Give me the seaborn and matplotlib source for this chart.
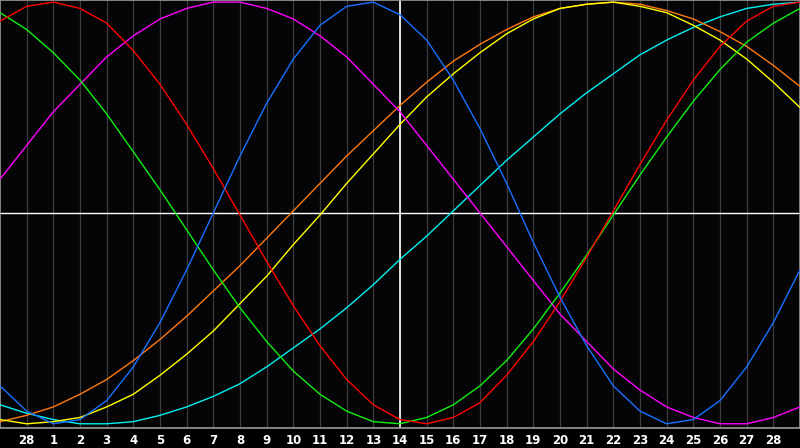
import matplotlib
matplotlib.use("Agg")
import matplotlib.pyplot as plt
import seaborn as sns
import pandas as pd

# day index 0..30 across the chart; tick labels at gridlines 1..29
days = list(range(31))
tick_pos = list(range(1, 30))
tick_labels = ["28"] + [str(d) for d in range(1, 29)]
today_pos = 15

blue = [-82, -94, -100, -98, -89, -73, -52, -27, 0, 27, 52, 73, 89, 98, 100, 94,
        82, 63, 40, 14, -14, -40, -63, -82, -94, -100, -98, -89, -73, -52, -27]
red = [91, 98, 100, 97, 90, 77, 61, 42, 21, -1, -23, -44, -63, -79, -91, -98,
       -100, -97, -90, -77, -61, -42, -21, 1, 23, 44, 63, 79, 91, 98, 100]
green = [95, 87, 76, 63, 47, 29, 11, -8, -27, -45, -61, -75, -86, -94, -99, -100,
         -97, -91, -82, -70, -55, -38, -20, -1, 18, 36, 53, 68, 81, 90, 97]
magenta = [16, 32, 48, 61, 74, 84, 92, 97, 100, 100, 97, 92, 84, 74, 61, 48,
           32, 16, 0, -16, -32, -48, -61, -74, -84, -92, -97, -100, -100, -97, -92]
yellow = [-98, -100, -99, -97, -92, -86, -77, -67, -56, -43, -30, -15, -1, 14, 28, 42,
          55, 66, 76, 85, 92, 97, 99, 100, 98, 95, 89, 82, 73, 62, 50]
orange = [-99, -96, -92, -86, -79, -70, -60, -49, -37, -25, -12, 1, 14, 27, 39, 51,
          62, 72, 80, 87, 93, 97, 99, 100, 99, 96, 92, 86, 79, 70, 60]
cyan = [-91, -95, -98, -100, -100, -99, -96, -92, -87, -81, -73, -64, -55, -45, -34, -22,
        -11, 1, 13, 25, 36, 47, 57, 66, 75, 82, 88, 93, 97, 99, 100]

series = {"cyan": cyan, "orange": orange, "yellow": yellow, "magenta": magenta,
          "green": green, "red": red, "blue": blue}
colors = {"cyan": "#00f0f0", "orange": "#ff7a10", "yellow": "#ffff00",
          "magenta": "#ff00ff", "green": "#10f010", "red": "#ff0000",
          "blue": "#1870ff"}

rows = []
for name, vals in series.items():
    for d, v in zip(days, vals):
        rows.append({"day": d, "value": v, "cycle": name})
df = pd.DataFrame(rows)

sns.set_style("dark")
fig = plt.figure(figsize=(8, 4.48), dpi=100, facecolor="#000000")
ax = fig.add_axes([0, 20 / 448, 1, 428 / 448])
ax.set_facecolor("#050508")

for k in tick_pos:
    ax.axvline(k, color="#3c3c3c", lw=0.9, zorder=0)
ax.axhline(0, color="#ffffff", lw=1.0, zorder=1)
ax.axvline(today_pos, color="#ffffff", lw=1.2, zorder=1)

sns.lineplot(data=df, x="day", y="value", hue="cycle", palette=colors,
             hue_order=list(series.keys()), lw=1.0, legend=False, ax=ax,
             zorder=3)

ax.set_xlim(0, 30)
ax.set_ylim(-102, 101)
ax.set_xticks(tick_pos)
ax.set_xticklabels(tick_labels)
ax.set_yticks([])
ax.set_xlabel("")
ax.set_ylabel("")
ax.grid(False)
ax.tick_params(axis="x", length=0, pad=4, colors="#ffffff", labelsize=8.5)
for lab in ax.get_xticklabels():
    lab.set_fontweight("bold")
    lab.set_family("DejaVu Sans")
for sp in ax.spines.values():
    sp.set_visible(True)
    sp.set_color("#9a9a9a")
    sp.set_linewidth(1.2)

fig.savefig("out.png", dpi=100, facecolor="#000000")
